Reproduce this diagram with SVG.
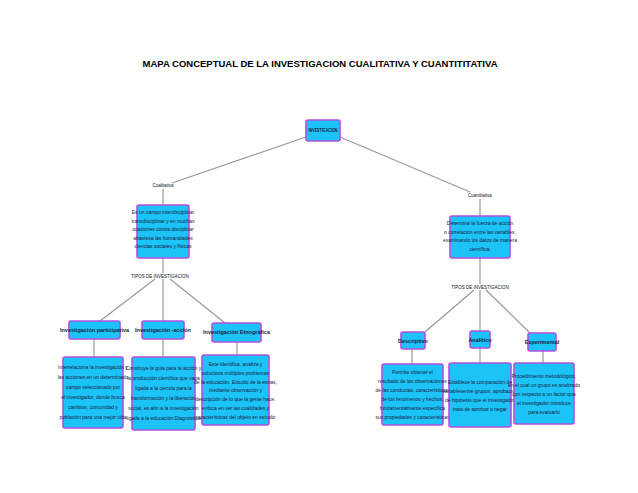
<svg xmlns="http://www.w3.org/2000/svg" width="638" height="493" viewBox="0 0 638 493">
<style>
.b{fill:#1cc3f7;stroke:#b34fe0;stroke-width:1.6}
.t{font-family:"Liberation Sans",Arial,sans-serif;font-size:5px;fill:#1a1a40;text-anchor:middle}
.h{font-family:"Liberation Sans",Arial,sans-serif;font-size:5.5px;font-weight:bold;fill:#1a1a40;text-anchor:middle}
.l{font-family:"Liberation Sans",Arial,sans-serif;font-size:4.5px;fill:#111;text-anchor:middle}
.c line{stroke:#999;stroke-width:1.2}
</style>
<rect width="638" height="493" fill="#fff"/>
<text x="320" y="67" font-family="Liberation Sans,Arial,sans-serif" font-size="9.5" font-weight="bold" text-anchor="middle" fill="#000">MAPA CONCEPTUAL DE LA INVESTIGACION CUALITATIVA Y CUANTITITATIVA</text>
<g class="c">
<line x1="306" y1="137" x2="172" y2="183"/><line x1="340" y1="137" x2="470" y2="192"/>
<line x1="163" y1="189" x2="163" y2="205"/><line x1="163" y1="258" x2="163" y2="273"/>
<line x1="155" y1="279" x2="100" y2="321"/><line x1="163" y1="279" x2="163" y2="321"/><line x1="170" y1="279" x2="225" y2="323"/>
<line x1="94" y1="339" x2="94" y2="357"/><line x1="163" y1="339" x2="163" y2="357"/><line x1="237" y1="342" x2="237" y2="355"/>
<line x1="480" y1="199" x2="480" y2="216"/><line x1="480" y1="258" x2="480" y2="284"/>
<line x1="474" y1="290" x2="425" y2="332"/><line x1="480" y1="290" x2="480" y2="331"/><line x1="486" y1="290" x2="530" y2="333"/>
<line x1="412" y1="349" x2="412" y2="364"/><line x1="480" y1="348" x2="480" y2="363"/><line x1="543" y1="351" x2="543" y2="363"/>
</g>
<g id="labels">
<text class="l" x="163" y="187">Cualitativa</text>
<text class="l" x="480" y="197">Cuantitativa</text>
<text class="l" x="160" y="278">TIPOS DE INVESTIGACION</text>
<text class="l" x="480" y="289">TIPOS DE INVESTIGACION</text>
</g>
<g id="investigacion"><rect class="b" x="306" y="120" width="34" height="21" rx="2"/><text class="h" x="323" y="132" textLength="29" lengthAdjust="spacingAndGlyphs">INVESTIGACION</text></g>
<g id="cual"><rect class="b" x="137" y="205" width="52" height="53" rx="2"/>
<text class="t" y="214"><tspan x="163">Es un campo interdisciplinar</tspan><tspan x="163" dy="8.5">transdisciplinar y en muchas</tspan><tspan x="163" dy="8.5">ocasiones contra disciplinar</tspan><tspan x="163" dy="8.5">atraviesa las humanidades</tspan><tspan x="163" dy="8.5">ciencias sociales y físicas</tspan></text></g>
<g id="cuan"><rect class="b" x="450" y="216" width="60" height="42" rx="2"/>
<text class="t" y="225"><tspan x="480">Determina la fuerza de acción</tspan><tspan x="480" dy="8.5">o correlación entre las variables,</tspan><tspan x="480" dy="8.5">examinando los datos de manera</tspan><tspan x="480" dy="8.5">científica.</tspan></text></g>
<g id="participativa"><rect class="b" x="69" y="321" width="51" height="18" rx="2"/><text class="h" x="94.5" y="332">Investigación participativa</text></g>
<g id="accion"><rect class="b" x="142" y="321" width="42" height="18" rx="2"/><text class="h" x="163" y="332">Investigación -acción</text></g>
<g id="etnografica"><rect class="b" x="212" y="323" width="49" height="19" rx="2"/><text class="h" x="236.5" y="334">Investigación Etnográfica</text></g>
<g id="descriptivo"><rect class="b" x="401" y="332" width="24" height="17" rx="2"/><text class="h" x="413" y="342.5">Descriptivo</text></g>
<g id="analitico"><rect class="b" x="470" y="331" width="20" height="17" rx="2"/><text class="h" x="480" y="341.5">Analítico</text></g>
<g id="experimental"><rect class="b" x="528" y="333" width="28" height="18" rx="2"/><text class="h" x="542" y="344">Experimental</text></g>
<g id="d-part"><rect class="b" x="63" y="357" width="60" height="71" rx="2"/>
<text class="t" y="369"><tspan x="93">Interrelaciona la investigación y</tspan><tspan x="93" dy="10">las acciones en un determinado</tspan><tspan x="93" dy="10">campo seleccionado por</tspan><tspan x="93" dy="10">el investigador, donde busca</tspan><tspan x="93" dy="10">cambios, comunidad y</tspan><tspan x="93" dy="10">población para una mejor vida</tspan></text></g>
<g id="d-acc"><rect class="b" x="132" y="357" width="63" height="73" rx="2"/>
<text class="t" y="370"><tspan x="163.5">Construye la guía para la acción y</tspan><tspan x="163.5" dy="10">la producción científica que vaya</tspan><tspan x="163.5" dy="10">ligada a la ciencia para la</tspan><tspan x="163.5" dy="10">transformación y la liberación</tspan><tspan x="163.5" dy="10">social, es afín a la investigación</tspan><tspan x="163.5" dy="10">ligada a la educación Diagnóstica</tspan></text></g>
<g id="d-etno"><rect class="b" x="202" y="355" width="67" height="70" rx="2"/>
<text class="t" y="366"><tspan x="235.5">Este identifica, analiza y</tspan><tspan x="235.5" dy="8.8">soluciona múltiples problemas</tspan><tspan x="235.5" dy="8.8">de la educación. Estudio de la etnias,</tspan><tspan x="235.5" dy="8.8">mediante observación y</tspan><tspan x="235.5" dy="8.8">descripción de lo que la gente hace,</tspan><tspan x="235.5" dy="8.8">enfoca en ver las cualidades y</tspan><tspan x="235.5" dy="8.8">características del objeto en estudio</tspan></text></g>
<g id="d-desc"><rect class="b" x="382" y="364" width="61" height="61" rx="2"/>
<text class="t" y="374"><tspan x="412.5">Permite obtener el</tspan><tspan x="412.5" dy="9">resultado de las observaciones</tspan><tspan x="412.5" dy="9">de las conductas, características,</tspan><tspan x="412.5" dy="9">de los fenómenos y hechos,</tspan><tspan x="412.5" dy="9">fundamentalmente específica</tspan><tspan x="412.5" dy="9">sus propiedades y características</tspan></text></g>
<g id="d-anal"><rect class="b" x="449" y="363" width="62" height="64" rx="2"/>
<text class="t" y="384"><tspan x="480">Establece la comparación de</tspan><tspan x="480" dy="9">variablesentre grupos, aprobación</tspan><tspan x="480" dy="9">de hipótesis que el investigador</tspan><tspan x="480" dy="9">trata de aprobar o negar</tspan></text></g>
<g id="d-exp"><rect class="b" x="514" y="363" width="60" height="61" rx="2"/>
<text class="t" y="378"><tspan x="544">Procedimiento metodológico,</tspan><tspan x="544" dy="9">en el cual un grupo es analizado</tspan><tspan x="544" dy="9">con respecto a un factor que</tspan><tspan x="544" dy="9">el investigador introduce</tspan><tspan x="544" dy="9">para evaluarlo</tspan></text></g>
</svg>
